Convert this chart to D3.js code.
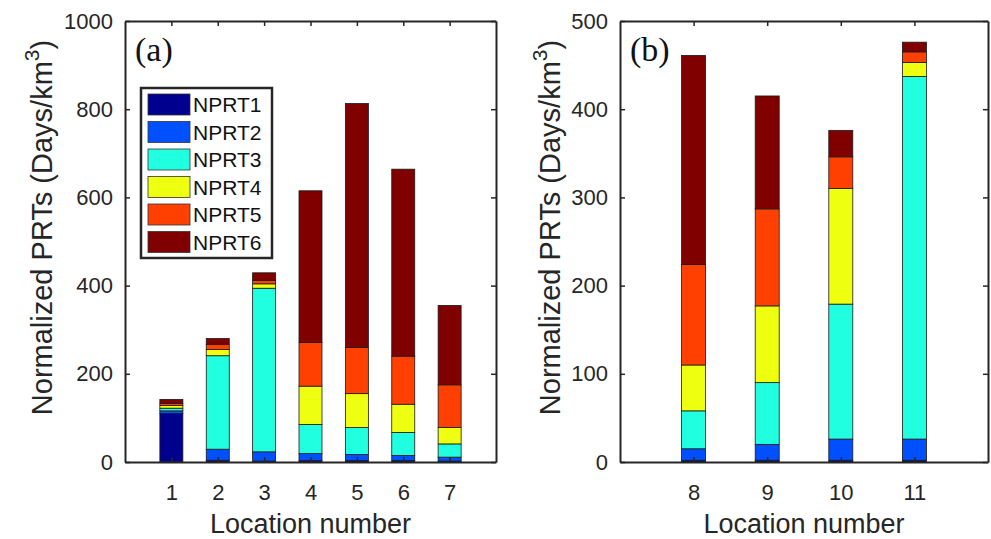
<!DOCTYPE html>
<html>
<head>
<meta charset="utf-8">
<script src="https://cdn.jsdelivr.net/npm/d3@7"></script>
<style>
  body { margin: 0; background: #fff; }
  svg { display: block; }
</style>
</head>
<body>
<div id="chart"></div>
<script>
// Data
const series = ['NPRT1', 'NPRT2', 'NPRT3', 'NPRT4', 'NPRT5', 'NPRT6'];
const colors = ['#00008f', '#0050ff', '#20ffdf', '#efff10', '#ff4000', '#800000'];

const locationsA = [1, 2, 3, 4, 5, 6, 7];
const nprt1A = [110, 4, 2, 3, 3, 3, 2];
const nprt2A = [6, 25, 21, 16, 14, 12, 9];
const nprt3A = [6, 212, 371, 66, 61, 52, 30];
const nprt4A = [6, 14, 10, 87, 77, 64, 37];
const nprt5A = [5, 12, 8, 99, 105, 109, 97];
const nprt6A = [9, 13, 17, 344, 553, 424, 180];

const locationsB = [8, 9, 10, 11];
const nprt1B = [2, 2, 2, 2];
const nprt2B = [13, 18, 24, 24];
const nprt3B = [43, 70, 153, 411];
const nprt4B = [52, 87, 131, 16];
const nprt5B = [114, 110, 36, 12];
const nprt6B = [237, 128, 30, 11];

const yTicksA = [0, 200, 400, 600, 800, 1000];
const yTicksB = [0, 100, 200, 300, 400, 500];

const W = 991, H = 539;
const axisColor = '#262626';
const sansFont = 'Arial, "Liberation Sans", sans-serif';

const svg = d3.select('#chart').append('svg')
  .attr('width', W)
  .attr('height', H);

function buildRows(locs, layers) {
  return locs.map((loc, i) => {
    const row = { loc };
    series.forEach((s, j) => { row[s] = layers[j][i]; });
    return row;
  });
}

function drawPanel(opts) {
  const { left, right, top, bottom, xDomain, yMax, yTicks, locs, rows, barW, label } = opts;

  const x = d3.scaleLinear().domain(xDomain).range([left, right]);
  const y = d3.scaleLinear().domain([0, yMax]).range([bottom, top]);

  const stack = d3.stack().keys(series)(rows);

  const g = svg.append('g');

  // Bars
  stack.forEach((layer, j) => {
    g.append('g')
      .selectAll('rect')
      .data(layer)
      .enter()
      .append('rect')
      .attr('x', d => x(d.data.loc) - barW / 2)
      .attr('width', barW)
      .attr('y', d => y(d[1]))
      .attr('height', d => y(d[0]) - y(d[1]))
      .attr('fill', colors[j])
      .attr('stroke', '#1a1a1a')
      .attr('stroke-width', 0.8);
  });

  // Axes (box with inward ticks)
  const tickLen = 5;
  const fmt = d3.format('d');
  const xAxis = d3.axisBottom(x).tickValues(locs).tickFormat(fmt).tickSizeInner(-tickLen).tickSizeOuter(0).tickPadding(22);
  const xAxisTop = d3.axisTop(x).tickValues(locs).tickSizeInner(-tickLen).tickSizeOuter(0).tickFormat('');
  const yAxis = d3.axisLeft(y).tickValues(yTicks).tickFormat(fmt).tickSizeInner(-tickLen).tickSizeOuter(0).tickPadding(12);
  const yAxisRight = d3.axisRight(y).tickValues(yTicks).tickSizeInner(-tickLen).tickSizeOuter(0).tickFormat('');

  const axes = [
    g.append('g').attr('transform', `translate(0,${bottom})`).call(xAxis),
    g.append('g').attr('transform', `translate(0,${top})`).call(xAxisTop),
    g.append('g').attr('transform', `translate(${left},0)`).call(yAxis),
    g.append('g').attr('transform', `translate(${right},0)`).call(yAxisRight)
  ];

  axes.forEach(a => {
    a.select('.domain').attr('stroke', axisColor).attr('stroke-width', 2);
    a.selectAll('.tick line').attr('stroke', axisColor).attr('stroke-width', 1.5);
    a.selectAll('.tick text')
      .attr('fill', axisColor)
      .style('font-family', sansFont)
      .style('font-size', '22px');
  });

  // Panel label
  g.append('text')
    .attr('x', left + 10)
    .attr('y', top + 40)
    .attr('font-family', '"Liberation Serif", "Times New Roman", serif')
    .attr('font-size', 34)
    .attr('fill', '#111')
    .text(label);

  // X title
  g.append('text')
    .attr('x', (left + right) / 2)
    .attr('y', bottom + 71)
    .attr('text-anchor', 'middle')
    .attr('font-family', sansFont)
    .attr('font-size', 27)
    .attr('fill', axisColor)
    .text('Location number');

  // Y title
  const yt = g.append('text')
    .attr('transform', `translate(${opts.yTitleX},${(top + bottom) / 2 - 14}) rotate(-90)`)
    .attr('text-anchor', 'middle')
    .attr('font-family', sansFont)
    .attr('font-size', 29)
    .attr('fill', axisColor);
  yt.append('tspan').text('Normalized PRTs (Days/km');
  yt.append('tspan').attr('dy', -13).attr('font-size', 21).text('3');
  yt.append('tspan').attr('dy', 13).text(')');

  return g;
}

drawPanel({
  left: 125, right: 496, top: 21, bottom: 462,
  xDomain: [0, 8], yMax: 1000, yTicks: yTicksA,
  locs: locationsA,
  rows: buildRows(locationsA, [nprt1A, nprt2A, nprt3A, nprt4A, nprt5A, nprt6A]),
  barW: 23, label: '(a)', yTitleX: 52
});

drawPanel({
  left: 620, right: 988, top: 21, bottom: 462,
  xDomain: [7, 12], yMax: 500, yTicks: yTicksB,
  locs: locationsB,
  rows: buildRows(locationsB, [nprt1B, nprt2B, nprt3B, nprt4B, nprt5B, nprt6B]),
  barW: 24, label: '(b)', yTitleX: 560
});

// Legend in panel (a)
const legend = svg.append('g').attr('transform', 'translate(141,88)');
legend.append('rect')
  .attr('x', 0).attr('y', 0)
  .attr('width', 131).attr('height', 170)
  .attr('fill', '#fff')
  .attr('stroke', axisColor)
  .attr('stroke-width', 2.5);

const items = legend.selectAll('g.item')
  .data(series)
  .enter()
  .append('g')
  .attr('class', 'item')
  .attr('transform', (d, i) => `translate(7, ${6 + i * 27.5})`);

items.append('rect')
  .attr('width', 42)
  .attr('height', 21)
  .attr('fill', (d, i) => colors[i])
  .attr('stroke', '#333')
  .attr('stroke-width', 0.8);

items.append('text')
  .attr('x', 45)
  .attr('y', 18)
  .attr('font-family', sansFont)
  .attr('font-size', 21)
  .attr('fill', '#111')
  .text(d => d);
</script>
</body>
</html>
